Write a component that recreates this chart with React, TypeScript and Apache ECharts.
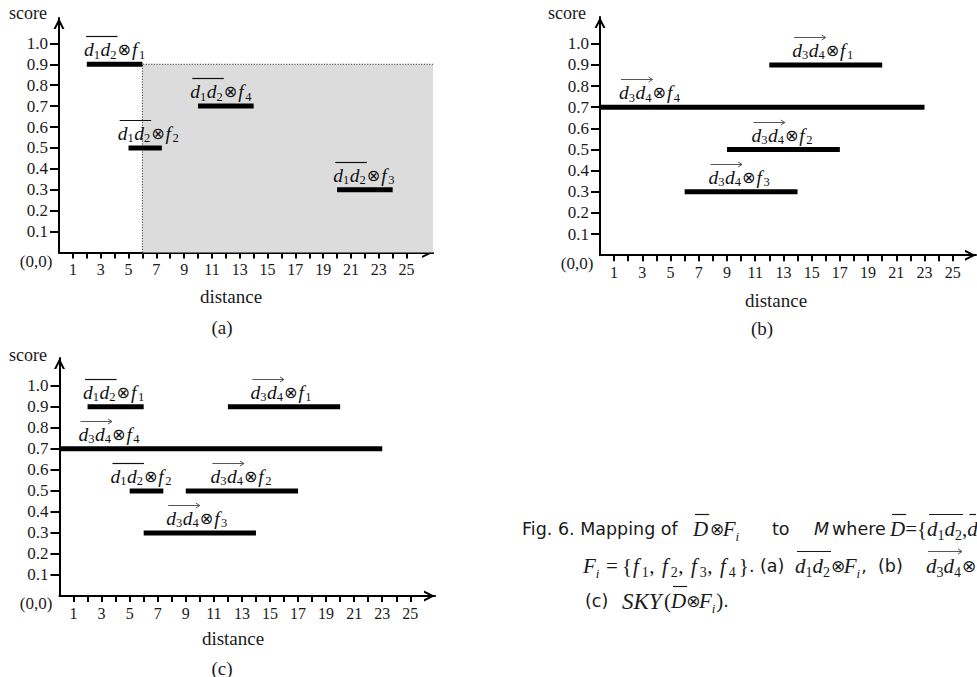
import React, { useEffect, useRef } from 'react';
import * as echarts from 'echarts';

// ---------------- data ----------------
const xTickValues = [1, 2, 3, 4, 5, 6, 7, 8, 9, 10, 11, 12, 13, 14, 15, 16, 17, 18, 19, 20, 21, 22, 23, 24, 25];
const xLabelValues = [1, 3, 5, 7, 9, 11, 13, 15, 17, 19, 21, 23, 25];
const yTickValues = [0.1, 0.2, 0.3, 0.4, 0.5, 0.6, 0.7, 0.8, 0.9, 1.0];

// (a) d1d2 ⊗ f_k
const aPair = ['d1d2', 'd1d2', 'd1d2', 'd1d2'];
const aFeature = [1, 2, 3, 4];
const aStart = [2, 5, 20, 10];
const aEnd = [6, 7.4, 24, 14];
const aScore = [0.9, 0.5, 0.3, 0.7];

// (b) d3d4 ⊗ f_k
const bPair = ['d3d4', 'd3d4', 'd3d4', 'd3d4'];
const bFeature = [1, 2, 3, 4];
const bStart = [12, 9, 6, 0];
const bEnd = [20, 17, 14, 23];
const bScore = [0.9, 0.5, 0.3, 0.7];

// (c) skyline
const cPair = ['d1d2', 'd1d2', 'd3d4', 'd3d4', 'd3d4', 'd3d4'];
const cFeature = [1, 2, 1, 2, 3, 4];
const cStart = [2, 5, 12, 9, 6, 0];
const cEnd = [6, 7.4, 20, 17, 14, 23];
const cScore = [0.9, 0.5, 0.9, 0.5, 0.3, 0.7];

// axis extents (arrow tips)
const xMax = [26.9, 26.65, 26.76];
const yMax = [1.121, 1.127, 1.132];

// label placement (px shift from bar centre; null = anchored at bar start)
const aLabelDx: (number | null)[] = [0, 3, -1, -5];
const bLabelDx: (number | null)[] = [-3, -1.5, -2, null];
const cLabelDx: (number | null)[] = [-2, -5.5, -3, -1, -3, null];
const START_INSET = 19;

// ---------------- fonts & helpers ----------------
const SERIF = 'Liberation Serif, Times New Roman, serif';
const SANS = 'DejaVu Sans, sans-serif';
const MATHOP = 'DejaVu Sans, sans-serif';

const LBL_MAIN = `italic 19.5px ${SERIF}`;
const LBL_SUB = `12.5px ${SERIF}`;
const LBL_OP = `16px ${MATHOP}`;

const CS = `17.5px ${SANS}`;
const CSI = `italic 17.5px ${SANS}`;
const CM = `italic 21px ${SERIF}`;
const CMB = `italic 23px ${SERIF}`;
const CU = `21px ${SERIF}`;
const CSUB = `14px ${SERIF}`;
const CSUBI = `italic 13px ${SERIF}`;
const CO = `17px ${MATHOP}`;

const BAR_H = 5;
const LABEL_RISE = 14.5;
const INK = '#111';

type Tok = { t: string; font: string; dy?: number; gap?: number; at?: number; deco?: string; kind?: 'over' | 'arrow' };

let measureCtx: CanvasRenderingContext2D | null = null;
function textWidth(font: string, s: string): number {
  if (!measureCtx) measureCtx = document.createElement('canvas').getContext('2d');
  if (!measureCtx) return s.length * 8;
  measureCtx.font = font;
  return measureCtx.measureText(s).width;
}
function tokensWidth(toks: Tok[]) {
  return toks.reduce((s, t) => s + textWidth(t.font, t.t) + (t.gap || 0), 0);
}
function layoutTokens(toks: Tok[], x0: number, y: number, decoRise: number, color: string) {
  const els: any[] = [];
  const decos: Record<string, { x1: number; x2: number; kind: string }> = {};
  let x = x0;
  for (const tk of toks) {
    if (tk.at != null) x = tk.at;
    const w = textWidth(tk.font, tk.t);
    els.push({
      type: 'text', x, y: y + (tk.dy || 0), silent: true,
      style: { text: tk.t, font: tk.font, fill: color, align: 'left', verticalAlign: 'middle', textAlign: 'left', textVerticalAlign: 'middle' },
    });
    if (tk.deco) {
      const d = decos[tk.deco];
      if (d) d.x2 = x + w;
      else decos[tk.deco] = { x1: x, x2: x + w, kind: tk.kind || 'over' };
    }
    x += w + (tk.gap || 0);
  }
  for (const key of Object.keys(decos)) {
    const d = decos[key];
    const ly = Math.round(y - decoRise) + 0.5;
    const x1 = d.x1 + 2;
    const x2 = Math.min(d.x2 + 1, 976);
    if (d.kind === 'over') {
      els.push({ type: 'line', silent: true, shape: { x1, y1: ly, x2, y2: ly }, style: { stroke: color, lineWidth: 1.2 } });
    } else {
      els.push({ type: 'line', silent: true, shape: { x1, y1: ly, x2, y2: ly }, style: { stroke: '#555', lineWidth: 1 } });
      els.push({ type: 'polyline', silent: true, shape: { points: [[x2 - 4, ly - 2.5], [x2, ly], [x2 - 4, ly + 2.5]] }, style: { stroke: '#555', lineWidth: 1, fill: 'none' } });
    }
  }
  return els;
}

function labelTokens(pair: string, feature: number): Tok[] {
  const a = pair[1];
  const b = pair[3];
  const kind: 'over' | 'arrow' = pair === 'd3d4' ? 'arrow' : 'over';
  return [
    { t: 'd', font: LBL_MAIN, deco: 'p', kind },
    { t: a, font: LBL_SUB, dy: 5, deco: 'p', kind, gap: 0.5 },
    { t: 'd', font: LBL_MAIN, deco: 'p', kind },
    { t: b, font: LBL_SUB, dy: 5, deco: 'p', kind, gap: 1 },
    { t: '⊗', font: LBL_OP, gap: 1 },
    { t: 'f', font: LBL_MAIN, gap: 1.5 },
    { t: String(feature), font: LBL_SUB, dy: 5 },
  ];
}

function barSeries(gi: number, pairs: string[], features: number[], starts: number[], ends: number[], scores: number[], dxs: (number | null)[]) {
  return {
    type: 'custom', xAxisIndex: gi, yAxisIndex: gi, z: 5, silent: true,
    data: starts.map((s, i) => [s, ends[i], scores[i]]),
    encode: { x: [0, 1], y: 2 },
    renderItem: (params: any, api: any) => {
      const i = params.dataIndex;
      const p1 = api.coord([api.value(0), api.value(2)]);
      const p2 = api.coord([api.value(1), api.value(2)]);
      const rect = { type: 'rect', shape: { x: p1[0], y: p1[1] - BAR_H / 2, width: p2[0] - p1[0], height: BAR_H }, style: { fill: '#000' } };
      const toks = labelTokens(pairs[i], features[i]);
      const w = tokensWidth(toks);
      const dx = dxs[i];
      const x0 = dx == null ? p1[0] + START_INSET : (p1[0] + p2[0]) / 2 - w / 2 + dx;
      const els = layoutTokens(toks, x0, p1[1] - LABEL_RISE, 13.5, INK);
      return { type: 'group', children: [rect, ...els] };
    },
  };
}

const ARROW = 'path://M0,10 L5,0 L10,10 L8,10 L5,4 L2,10 Z';

function xAxisCfg(gi: number) {
  return {
    type: 'value', gridIndex: gi, min: 0, max: xMax[gi],
    axisLine: { show: true, onZero: false, symbol: ['none', ARROW], symbolSize: [11, 11], symbolOffset: [0, -5.5], lineStyle: { color: '#000', width: 2 } },
    axisTick: { show: true, customValues: xTickValues, length: 6, lineStyle: { color: '#000', width: 2 } },
    axisLabel: { show: true, customValues: xLabelValues, margin: 9, fontFamily: SERIF, fontSize: 16, color: '#1a1a1a' },
    splitLine: { show: false },
  };
}
function yAxisCfg(gi: number) {
  return {
    type: 'value', gridIndex: gi, min: 0, max: yMax[gi],
    axisLine: { show: true, onZero: false, symbol: ['none', ARROW], symbolSize: [11, 11], symbolOffset: [0, -5.5], lineStyle: { color: '#000', width: 2 } },
    axisTick: { show: true, customValues: yTickValues, length: 9, lineStyle: { color: '#000', width: 2 } },
    axisLabel: { show: true, customValues: yTickValues, margin: 11, formatter: (v: number) => v.toFixed(1), fontFamily: SERIF, fontSize: 17, color: '#1a1a1a' },
    splitLine: { show: false },
  };
}

function plainText(text: string, x: number, y: number, font: string) {
  return { type: 'text', x, y, silent: true, style: { text, font, fill: '#1a1a1a', align: 'center', verticalAlign: 'middle', textAlign: 'center', textVerticalAlign: 'middle' } };
}

function captionElements() {
  const l1: Tok[] = [
    { t: 'Fig. 6. Mapping of', font: CS, at: 522 },
    { t: 'D', font: CM, at: 693, deco: 'a' },
    { t: '⊗', font: CO, at: 710, gap: -1.5 },
    { t: 'F', font: CM },
    { t: 'i', font: CSUBI, dy: 7 },
    { t: 'to', font: CS, at: 772 },
    { t: 'M', font: CSI, at: 814 },
    { t: 'where', font: CS, at: 832 },
    { t: 'D', font: CM, at: 890, deco: 'b' },
    { t: '=', font: CU },
    { t: '{', font: CU },
    { t: 'd', font: CM, deco: 'c' },
    { t: '1', font: CSUB, dy: 6, deco: 'c' },
    { t: 'd', font: CM, deco: 'c' },
    { t: '2', font: CSUB, dy: 6, deco: 'c' },
    { t: ',', font: CU },
    { t: 'd', font: CM, deco: 'd' },
  ];
  const l2: Tok[] = [
    { t: 'F', font: CM, at: 583 },
    { t: 'i', font: CSUBI, dy: 7 },
    { t: '=', font: CU, at: 606 },
    { t: '{', font: CU, at: 622 },
    { t: 'f', font: CM, at: 633, gap: 3 }, { t: '1', font: CSUB, dy: 6, gap: 0.5 }, { t: ',', font: CU },
    { t: 'f', font: CM, at: 662, gap: 3 }, { t: '2', font: CSUB, dy: 6, gap: 0.5 }, { t: ',', font: CU },
    { t: 'f', font: CM, at: 691, gap: 3 }, { t: '3', font: CSUB, dy: 6, gap: 0.5 }, { t: ',', font: CU },
    { t: 'f', font: CM, at: 720, gap: 3 }, { t: '4', font: CSUB, dy: 6, gap: 3 },
    { t: '}', font: CU },
    { t: '. (a)', font: CS },
    { t: 'd', font: CM, at: 795, deco: 'e' }, { t: '1', font: CSUB, dy: 6, deco: 'e' },
    { t: 'd', font: CM, deco: 'e' }, { t: '2', font: CSUB, dy: 6, deco: 'e', gap: 1 },
    { t: '⊗', font: CO, gap: -1.5 },
    { t: 'F', font: CM }, { t: 'i', font: CSUBI, dy: 7, gap: 1 },
    { t: ',', font: CS },
    { t: '(b)', font: CS, at: 878 },
    { t: 'd', font: CM, at: 926, deco: 'f', kind: 'arrow' }, { t: '3', font: CSUB, dy: 6, deco: 'f', kind: 'arrow' },
    { t: 'd', font: CM, deco: 'f', kind: 'arrow' }, { t: '4', font: CSUB, dy: 6, deco: 'f', kind: 'arrow' },
    { t: '⊗', font: CO, at: 962 },
  ];
  const l3: Tok[] = [
    { t: '(c)', font: CS, at: 585 },
    { t: 'SKY', font: CMB, at: 622 },
    { t: '(', font: CU, at: 664 },
    { t: 'D', font: CM, deco: 'g' },
    { t: '⊗', font: CO, gap: -1.5 },
    { t: 'F', font: CM },
    { t: 'i', font: CSUBI, dy: 7, gap: 1 },
    { t: ')', font: CU },
    { t: '.', font: CS },
  ];
  return [
    ...layoutTokens(l1, 0, 529, 15.5, '#1a1a1a'),
    ...layoutTokens(l2, 0, 566, 15.5, '#1a1a1a'),
    ...layoutTokens(l3, 0, 601, 15.5, '#1a1a1a'),
  ];
}

function buildOption(): any {
  const AX = `18px ${SERIF}`;
  const graphicChildren = [
    plainText('score', 28, 13, AX),
    plainText('(0,0)', 36, 261, `17px ${SERIF}`),
    plainText('distance', 231, 296, `19px ${SERIF}`),
    plainText('(a)', 222, 327, `19px ${SERIF}`),
    plainText('score', 567, 13, AX),
    plainText('(0,0)', 577, 263, `17px ${SERIF}`),
    plainText('distance', 776, 300, `19px ${SERIF}`),
    plainText('(b)', 762, 328, `19px ${SERIF}`),
    plainText('score', 28, 355, AX),
    plainText('(0,0)', 36, 603, `17px ${SERIF}`),
    plainText('distance', 233, 638, `19px ${SERIF}`),
    plainText('(c)', 222, 668, `19px ${SERIF}`),
    ...captionElements(),
  ];
  return {
    animation: false,
    backgroundColor: '#ffffff',
    grid: [
      { left: 59, top: 18, width: 374, height: 234.6, containLabel: false, outerBoundsMode: 'none' },
      { left: 600, top: 17, width: 376, height: 238.2, containLabel: false, outerBoundsMode: 'none' },
      { left: 59.5, top: 358, width: 375.5, height: 238, containLabel: false, outerBoundsMode: 'none' },
    ],
    xAxis: [xAxisCfg(0), xAxisCfg(1), xAxisCfg(2)],
    yAxis: [yAxisCfg(0), yAxisCfg(1), yAxisCfg(2)],
    series: [
      {
        type: 'custom', xAxisIndex: 0, yAxisIndex: 0, z: 1, silent: true,
        data: [[aEnd[0], aScore[0]]],
        renderItem: (params: any, api: any) => {
          const p = api.coord([api.value(0), api.value(1)]);
          const o = api.coord([api.value(0), 0]);
          const cs = params.coordSys;
          const right = cs.x + cs.width;
          return {
            type: 'group',
            children: [
              { type: 'rect', shape: { x: p[0], y: p[1], width: right - p[0], height: o[1] - p[1] }, style: { fill: '#dcdcdc' } },
              { type: 'polyline', shape: { points: [[p[0], o[1]], [p[0], p[1]], [right, p[1]]] }, style: { stroke: '#333', lineWidth: 1, lineDash: [1.2, 1.5], fill: 'none' } },
            ],
          };
        },
      },
      barSeries(0, aPair, aFeature, aStart, aEnd, aScore, aLabelDx),
      barSeries(1, bPair, bFeature, bStart, bEnd, bScore, bLabelDx),
      barSeries(2, cPair, cFeature, cStart, cEnd, cScore, cLabelDx),
    ],
    graphic: [{ type: 'group', children: graphicChildren }],
  };
}

export default function App() {
  const ref = useRef<HTMLDivElement>(null);
  useEffect(() => {
    document.body.style.margin = '0';
    const chart = echarts.init(ref.current as HTMLDivElement, null, { renderer: 'svg' });
    chart.setOption(buildOption());
    return () => chart.dispose();
  }, []);
  return <div ref={ref} style={{ position: 'absolute', left: 0, top: 0, width: 977, height: 677, background: '#fff' }} />;
}
